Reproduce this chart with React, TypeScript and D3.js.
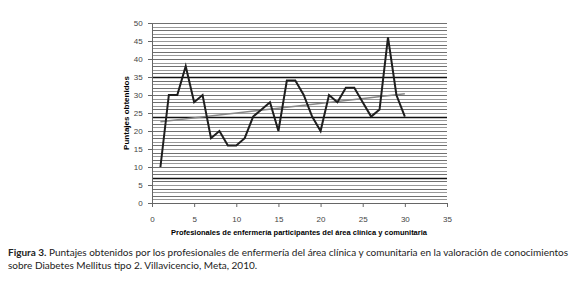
import React, { useRef, useEffect } from 'react';
import * as d3 from 'd3';

// puntajes por profesional (1..30)
const participants = d3.range(1, 31);
const scores = [10, 30, 30, 38, 28, 30, 18, 20, 16, 16, 18, 24, 26, 28, 20, 34, 34, 30, 24, 20, 30, 28, 32, 32, 28, 24, 26, 46, 30, 24];
const xTicks = [0, 5, 10, 15, 20, 25, 30, 35];
const yTicks = [0, 5, 10, 15, 20, 25, 30, 35, 40, 45, 50];
const gridValues = d3.range(1, 51);
const darkLines = [7, 24, 35];

const App = () => {
    const svgRef = useRef<SVGSVGElement>(null);

    useEffect(() => {
        const svg = d3.select(svgRef.current);
        svg.selectAll("*").remove();

        const margin = { top: 23, right: 132, bottom: 79, left: 152 };
        const width = 579;
        const height = 282;

        const x = d3.scaleLinear().domain([0, 35]).range([margin.left, width - margin.right]);
        const y = d3.scaleLinear().domain([0, 50]).range([height - margin.bottom, margin.top]);

        // horizontal gridlines, one per unit
        svg.append("g")
            .selectAll("line")
            .data(gridValues)
            .join("line")
            .attr("x1", x(0))
            .attr("x2", x(35))
            .attr("y1", d => Math.round(y(d)) + 0.5)
            .attr("y2", d => Math.round(y(d)) + 0.5)
            .attr("stroke", (d, i) => darkLines.includes(d) ? "#111" : (i % 2 ? "#707070" : "#999"))
            .attr("stroke-width", d => darkLines.includes(d) ? 1.6 : 1);

        // axes
        svg.append("g")
            .attr("transform", `translate(0,${y(0)})`)
            .call(d3.axisBottom(x).tickValues(xTicks).tickSize(4).tickSizeOuter(0))
            .call(g => g.selectAll("text").attr("dy", "1.5em"));

        svg.append("g")
            .attr("transform", `translate(${x(0)},0)`)
            .call(d3.axisLeft(y).tickValues(yTicks).tickSize(4).tickSizeOuter(0))
            .call(g => g.selectAll("text").attr("dx", "-0.3em"));

        svg.selectAll(".domain, .tick line").attr("stroke", "#666");
        svg.selectAll(".tick text")
            .attr("fill", "#444")
            .attr("font-family", "Liberation Sans, Arial, sans-serif")
            .attr("font-size", 8);

        // linear trend (least squares)
        const mx = d3.mean(participants)!;
        const my = d3.mean(scores)!;
        const slope = d3.sum(participants, (p, i) => (p - mx) * (scores[i] - my)) / d3.sum(participants, p => (p - mx) ** 2);
        const intercept = my - slope * mx;
        svg.append("line")
            .attr("x1", x(1)).attr("y1", y(intercept + slope))
            .attr("x2", x(30)).attr("y2", y(intercept + slope * 30))
            .attr("stroke", "#888")
            .attr("stroke-width", 1.5);

        // series
        const line = d3.line<number>()
            .x((d, i) => x(participants[i]))
            .y(d => y(d));
        svg.append("path")
            .datum(scores)
            .attr("fill", "none")
            .attr("stroke", "#1e1e1e")
            .attr("stroke-width", 2)
            .attr("d", line);

        // axis titles
        svg.append("text")
            .attr("transform", `translate(129,${(y(0) + y(50)) / 2}) rotate(-90)`)
            .attr("text-anchor", "middle")
            .attr("font-family", "Liberation Sans, Arial, sans-serif")
            .attr("font-weight", "bold")
            .attr("font-size", 8)
            .text("Puntajes obtenidos");

        svg.append("text")
            .attr("x", 299)
            .attr("y", 235)
            .attr("text-anchor", "middle")
            .attr("font-family", "Liberation Sans, Arial, sans-serif")
            .attr("font-weight", "bold")
            .attr("font-size", 7.5)
            .text("Profesionales de enfermería participantes del área clínica y comunitaria");

        // caption
        const cap = svg.append("text")
            .attr("x", 8)
            .attr("y", 256)
            .attr("font-family", "Lato, sans-serif")
            .attr("font-size", 10)
            .attr("fill", "#222");
        cap.append("tspan").attr("font-weight", "bold").text("Figura 3.");
        cap.append("tspan").text(" Puntajes obtenidos por los profesionales de enfermería del área clínica y comunitaria en la valoración de conocimientos");
        svg.append("text")
            .attr("x", 8)
            .attr("y", 269)
            .attr("font-family", "Lato, sans-serif")
            .attr("font-size", 10)
            .attr("fill", "#222")
            .text("sobre Diabetes Mellitus tipo 2. Villavicencio, Meta, 2010.");
    }, []);

    return <svg ref={svgRef} width={579} height={282} style={{ position: "absolute", left: 0, top: 0, background: "#fff" }}></svg>;
};

export default App;
